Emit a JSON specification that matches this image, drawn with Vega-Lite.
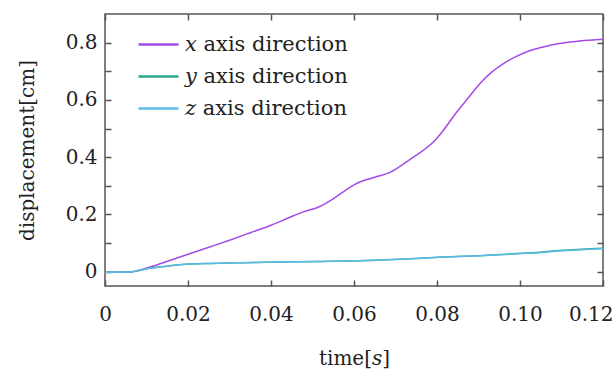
{
  "$schema": "https://vega.github.io/schema/vega-lite/v6.json",
  "width": 498,
  "height": 272,
  "autosize": "none",
  "padding": {"left": 105, "top": 14, "right": 12, "bottom": 83},
  "background": "white",
  "config": {
    "view": {"stroke": "#555555", "strokeWidth": 1.5},
    "font": "DejaVu Serif",
    "axis": {"grid": false, "domain": false, "tickColor": "#555555", "tickWidth": 1.5, "tickSize": -6, "labelFont": "DejaVu Serif", "titleFont": "DejaVu Serif", "labelColor": "#222222", "titleColor": "#222222", "titleFontWeight": "normal", "labelFontSize": 20, "titleFontSize": 20}
  },
  "data": {
    "values": [
      {"t": 0, "v": -0.002, "dir": "x"},
      {"t": 0.006, "v": -0.001, "dir": "x"},
      {"t": 0.0099, "v": 0.012, "dir": "x"},
      {"t": 0.0147, "v": 0.035, "dir": "x"},
      {"t": 0.0195, "v": 0.058, "dir": "x"},
      {"t": 0.0254, "v": 0.087, "dir": "x"},
      {"t": 0.030, "v": 0.110, "dir": "x"},
      {"t": 0.035, "v": 0.136, "dir": "x"},
      {"t": 0.040, "v": 0.162, "dir": "x"},
      {"t": 0.0447, "v": 0.191, "dir": "x"},
      {"t": 0.0476, "v": 0.208, "dir": "x"},
      {"t": 0.0515, "v": 0.226, "dir": "x"},
      {"t": 0.0544, "v": 0.249, "dir": "x"},
      {"t": 0.0573, "v": 0.278, "dir": "x"},
      {"t": 0.0602, "v": 0.305, "dir": "x"},
      {"t": 0.0631, "v": 0.322, "dir": "x"},
      {"t": 0.066, "v": 0.334, "dir": "x"},
      {"t": 0.0684, "v": 0.345, "dir": "x"},
      {"t": 0.0708, "v": 0.365, "dir": "x"},
      {"t": 0.0737, "v": 0.394, "dir": "x"},
      {"t": 0.0766, "v": 0.423, "dir": "x"},
      {"t": 0.0795, "v": 0.458, "dir": "x"},
      {"t": 0.0815, "v": 0.493, "dir": "x"},
      {"t": 0.0844, "v": 0.551, "dir": "x"},
      {"t": 0.0873, "v": 0.603, "dir": "x"},
      {"t": 0.0902, "v": 0.655, "dir": "x"},
      {"t": 0.0931, "v": 0.696, "dir": "x"},
      {"t": 0.096, "v": 0.727, "dir": "x"},
      {"t": 0.0989, "v": 0.750, "dir": "x"},
      {"t": 0.1018, "v": 0.769, "dir": "x"},
      {"t": 0.1056, "v": 0.785, "dir": "x"},
      {"t": 0.1095, "v": 0.797, "dir": "x"},
      {"t": 0.1144, "v": 0.806, "dir": "x"},
      {"t": 0.12, "v": 0.812, "dir": "x"},
      {"t": 0, "v": -0.002, "dir": "y"},
      {"t": 0.006, "v": -0.001, "dir": "y"},
      {"t": 0.0108, "v": 0.012, "dir": "y"},
      {"t": 0.0157, "v": 0.021, "dir": "y"},
      {"t": 0.0195, "v": 0.026, "dir": "y"},
      {"t": 0.0254, "v": 0.029, "dir": "y"},
      {"t": 0.032, "v": 0.031, "dir": "y"},
      {"t": 0.0418, "v": 0.034, "dir": "y"},
      {"t": 0.0515, "v": 0.036, "dir": "y"},
      {"t": 0.0612, "v": 0.038, "dir": "y"},
      {"t": 0.0708, "v": 0.043, "dir": "y"},
      {"t": 0.0805, "v": 0.050, "dir": "y"},
      {"t": 0.0902, "v": 0.056, "dir": "y"},
      {"t": 0.1, "v": 0.064, "dir": "y"},
      {"t": 0.1047, "v": 0.068, "dir": "y"},
      {"t": 0.1095, "v": 0.074, "dir": "y"},
      {"t": 0.12, "v": 0.082, "dir": "y"},
      {"t": 0, "v": -0.002, "dir": "z"},
      {"t": 0.006, "v": -0.001, "dir": "z"},
      {"t": 0.0108, "v": 0.012, "dir": "z"},
      {"t": 0.0157, "v": 0.021, "dir": "z"},
      {"t": 0.0195, "v": 0.026, "dir": "z"},
      {"t": 0.0254, "v": 0.029, "dir": "z"},
      {"t": 0.032, "v": 0.031, "dir": "z"},
      {"t": 0.0418, "v": 0.034, "dir": "z"},
      {"t": 0.0515, "v": 0.036, "dir": "z"},
      {"t": 0.0612, "v": 0.038, "dir": "z"},
      {"t": 0.0708, "v": 0.043, "dir": "z"},
      {"t": 0.0805, "v": 0.050, "dir": "z"},
      {"t": 0.0902, "v": 0.056, "dir": "z"},
      {"t": 0.1, "v": 0.063, "dir": "z"},
      {"t": 0.1047, "v": 0.066, "dir": "z"},
      {"t": 0.1095, "v": 0.072, "dir": "z"},
      {"t": 0.12, "v": 0.080, "dir": "z"}
    ]
  },
  "layer": [
    {
      "mark": {"type": "line", "strokeWidth": 1.5, "clip": true, "interpolate": "monotone"},
      "encoding": {
        "x": {"field": "t", "type": "quantitative", "scale": {"domain": [0, 0.12], "nice": false, "zero": false},
          "axis": {"orient": "bottom", "title": "time[𝑠]", "values": [0, 0.02, 0.04, 0.06, 0.08, 0.1, 0.12], "labelExpr": "datum.value == 0 ? '0' : format(datum.value, '.2f')", "labelPadding": 24, "titlePadding": 24, "labelFlush": false,
            "labelAlign": {"condition": {"test": "datum.value > 0.11", "value": "right"}, "value": "center"},
            "labelOffset": {"condition": {"test": "datum.value > 0.11", "value": 10}, "value": 0}}},
        "y": {"field": "v", "type": "quantitative", "scale": {"domain": [-0.05, 0.9], "nice": false, "zero": false},
          "axis": {"orient": "left", "title": "displacement[cm]", "values": [0, 0.1, 0.2, 0.3, 0.4, 0.5, 0.6, 0.7, 0.8], "labelExpr": "datum.value == 0 ? '0' : (round(datum.value * 10) % 2 == 0 ? format(datum.value, '.1f') : '')", "labelPadding": 14, "titlePadding": 28}},
        "color": {"field": "dir", "type": "nominal",
          "scale": {"domain": ["x", "y", "z"], "range": ["#a34be6", "#2aa888", "#5cbbe8"]},
          "legend": {"orient": "none", "legendX": 32, "legendY": 9, "title": null, "symbolType": "stroke", "symbolSize": 1600, "symbolStrokeWidth": 2.5, "labelFontSize": 21, "labelFont": "DejaVu Serif", "labelColor": "#222222", "labelLimit": 400, "rowPadding": -17, "labelOffset": 5,
            "labelExpr": "datum.label == 'x' ? '𝑥 axis direction' : (datum.label == 'y' ? '𝑦 axis direction' : '𝑧 axis direction')"}}
      }
    },
    {
      "mark": {"type": "rule", "opacity": 0},
      "encoding": {
        "x": {"field": "t", "type": "quantitative", "axis": {"orient": "top", "title": null, "labels": false, "values": [0, 0.02, 0.04, 0.06, 0.08, 0.1, 0.12]}},
        "y": {"field": "v", "type": "quantitative", "axis": {"orient": "right", "title": null, "labels": false, "values": [0, 0.1, 0.2, 0.3, 0.4, 0.5, 0.6, 0.7, 0.8]}}
      }
    }
  ],
  "resolve": {"axis": {"x": "independent", "y": "independent"}}
}
